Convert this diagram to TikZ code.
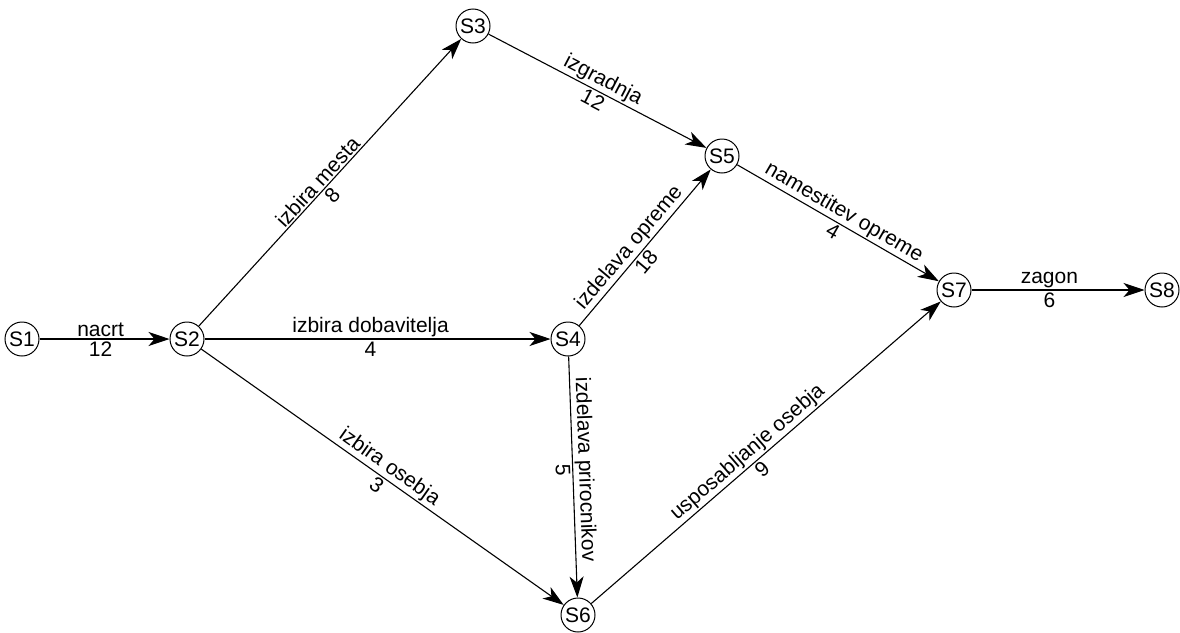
\documentclass[tikz,border=0pt]{standalone}
\usepackage{fontspec}
\setmainfont{Liberation Sans}
\usetikzlibrary{arrows.meta}
\begin{document}
\begin{tikzpicture}[x=1pt,y=-1pt,
  st/.style={circle,draw,line width=1pt,minimum size=34pt,inner sep=0pt,font=\fontsize{21}{21}\selectfont},
  ed/.style={line width=1.1pt,-{Stealth[length=21pt,width=14pt,inset=6pt]}},
  up/.style={above,sloped,inner sep=1.5pt,font=\fontsize{21}{21}\selectfont},
  dn/.style={below,sloped,inner sep=2pt,font=\fontsize{21}{21}\selectfont}]
\useasboundingbox (0,0) rectangle (1180,632);
\node[st] (S1) at (22,339) {S1};
\node[st] (S2) at (187,339) {S2};
\node[st] (S3) at (473,26) {S3};
\node[st] (S4) at (568,339) {S4};
\node[st] (S5) at (722,156) {S5};
\node[st] (S6) at (578,615) {S6};
\node[st] (S7) at (954,290) {S7};
\node[st] (S8) at (1162,290) {S8};
\draw[ed] (S1) -- node[up,pos=0.47] (l1) {nacrt} node[dn,pos=0.47] (n1) {12} (S2);
\draw[ed] (S2) -- node[up,pos=0.48] (l2) {izbira mesta} node[dn,pos=0.48] (n2) {8} (S3);
\draw[ed] (S2) -- node[up,pos=0.48] (l3) {izbira dobavitelja} node[dn,pos=0.48] (n3) {4} (S4);
\draw[ed] (S2) -- node[up] (l4) {izbira osebja} node[dn] (n4) {3} (S6);
\draw[ed] (S3) -- node[up] (l5) {izgradnja} node[dn] (n5) {12} (S5);
\draw[ed] (S4) -- node[up,pos=0.45] (l6) {izdelava opreme} node[dn,pos=0.45] (n6) {18} (S5);
\draw[ed] (S4) -- node[up,pos=0.47] (l7) {izdelava prirocnikov} node[dn,pos=0.47] (n7) {5} (S6);
\draw[ed] (S5) -- node[up] (l8) {namestitev opreme} node[dn] (n8) {4} (S7);
\draw[ed] (S6) -- node[up,pos=0.47] (l9) {usposabljanje osebja} node[dn,pos=0.47] (n9) {9} (S7);
\draw[ed] (S7) -- node[up,pos=0.45] (l10) {zagon} node[dn,pos=0.45] (n10) {6} (S8);
\end{tikzpicture}
\end{document}
